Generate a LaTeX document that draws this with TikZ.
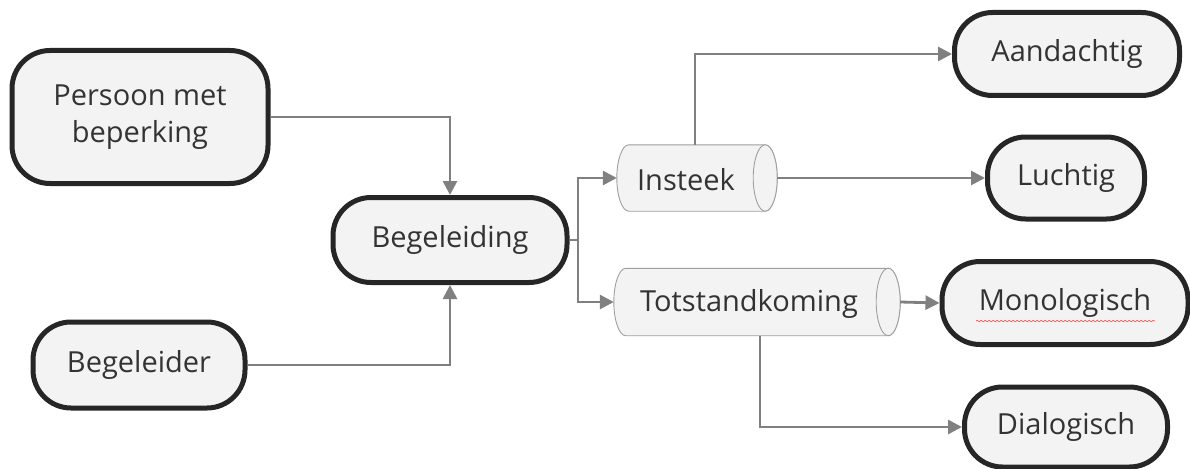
\documentclass[tikz,border=0pt]{standalone}
\usepackage{fontspec}
\setmainfont{Open Sans}
\usetikzlibrary{arrows.meta,decorations.pathmorphing,calc}
\definecolor{boxfill}{HTML}{F3F3F3}
\definecolor{linkgray}{HTML}{808080}
\definecolor{txt}{HTML}{333333}
\tikzset{
  topic/.style={draw=black!85, line width=5pt, fill=boxfill, rounded corners=38pt,
    text=txt, font=\fontsize{29}{37}\selectfont, align=center, inner sep=0pt},
  tubebox/.style={inner sep=0pt, text=txt, font=\fontsize{29}{37}\selectfont},
  tubeline/.style={draw=gray!75, line width=0.9pt, fill=boxfill},
  link/.style={draw=linkgray, line width=2.8pt},
  arr/.style={link, -{Triangle[length=14pt,width=14pt]}}
}
% horizontal cylinder drawn round a named node (cap radius 12pt)
\newcommand\drawtube[1]{%
  \path let \p1=(#1.north east), \p2=(#1.south west), \n1={abs(\y1-\y2)/2} in
    [tubeline] ([xshift=12pt]#1.north west) -- ([xshift=-12pt]#1.north east)
      arc[start angle=90, end angle=-90, x radius=12pt, y radius=\n1]
      -- ([xshift=12pt]#1.south west)
      arc[start angle=270, end angle=90, x radius=12pt, y radius=\n1] -- cycle;
  \path let \p1=(#1.north east), \p2=(#1.south west), \n1={abs(\y1-\y2)/2} in
    [tubeline] ([xshift=-12pt]#1.east) ellipse[x radius=12pt, y radius=\n1];}
\begin{document}
\begin{tikzpicture}[x=1pt,y=-1pt]
\useasboundingbox (0,0) rectangle (1190,468);

% main topics
\node[topic, minimum width=256pt, minimum height=133pt] (pmb) at (140,117) {Persoon met\\beperking};
\node[topic, minimum width=212pt, minimum height=86pt] (bgr) at (139,365) {Begeleider};
\node[topic, minimum width=234pt, minimum height=85pt] (bgd) at (450,240) {Begeleiding};

% aspects (cylinders)
\node[minimum width=160pt, minimum height=66pt, inner sep=0pt] (ins) at (697,178) {};
\node[minimum width=286pt, minimum height=67pt, inner sep=0pt] (tot) at (757,302) {};
\drawtube{ins}
\drawtube{tot}
\node[tubebox] (inst) at (686,180) {Insteek};
\node[tubebox] (tott) at (749,304) {Totstandkoming};

% outcomes
\node[topic, minimum width=225pt, minimum height=83pt] (aan) at (1067,54) {Aandachtig};
\node[topic, minimum width=157pt, minimum height=82pt] (lu) at (1066,178) {Luchtig};
\node[topic, minimum width=246pt, minimum height=83pt] (mon) at (1065,303) {Monologisch};
\node[topic, minimum width=203pt, minimum height=80pt] (dia) at (1066,427) {Dialogisch};

% spell-check squiggle under Monologisch
\draw[red!80, line width=0.5pt, decorate, decoration={snake, amplitude=0.8pt, segment length=4pt}]
  (976,321) -- (1155,321);

% connectors
\coordinate (j1) at (450,117);
\coordinate (j2) at (450,365);
\coordinate (fork) at (578,240);
\draw[arr] (pmb.east |- j1) -| (bgd.north);
\draw[arr] (bgr.east |- j2) -| (bgd.south);
\draw[link] (bgd.east) -- (fork);
\draw[arr] (fork) |- (ins.west);
\draw[arr] (fork) |- (tot.west);
\coordinate (i1) at (695,178);
\draw[arr] (i1 |- ins.north) |- (aan.west);
\draw[arr] (ins.east) -- (lu.west);
\draw[arr] (tot.east) -- (mon.west);
\coordinate (t1) at (760,302);
\draw[arr] (t1 |- tot.south) |- (dia.west);
\end{tikzpicture}
\end{document}
